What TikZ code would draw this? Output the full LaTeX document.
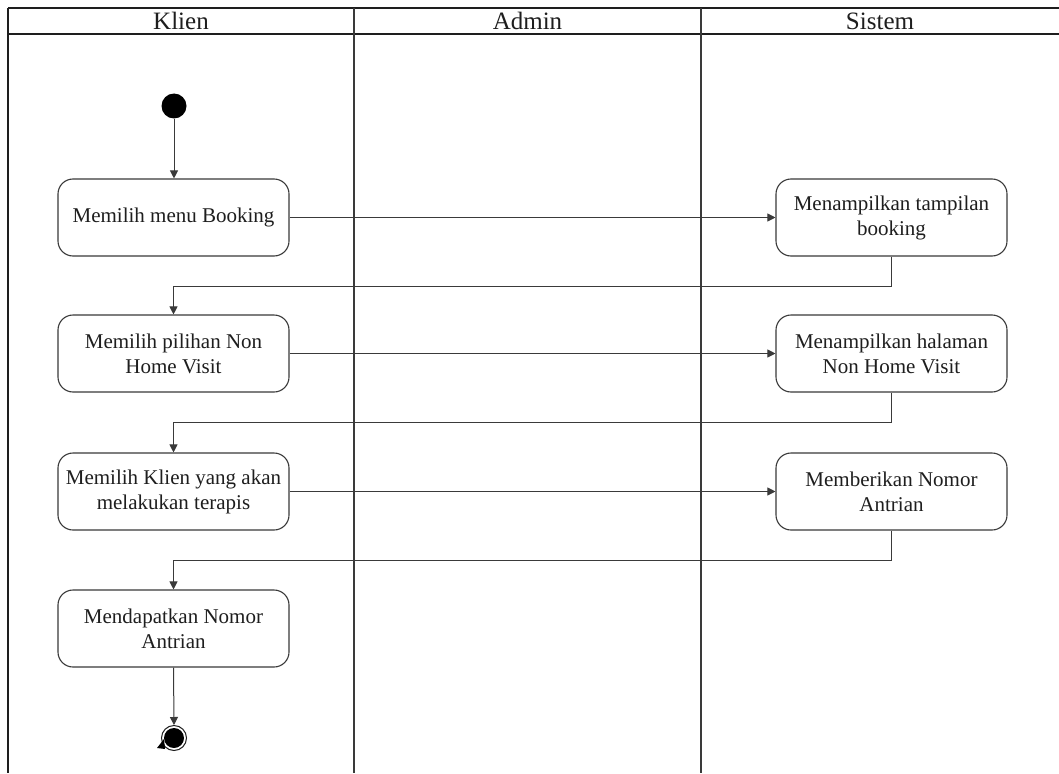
\documentclass[tikz,border=0pt]{standalone}
\usepackage{fontspec}
\setmainfont{Liberation Serif}
\usetikzlibrary{arrows.meta}

\definecolor{ink}{HTML}{1E1E1E}
\definecolor{rule}{HTML}{3A3A3A}

\tikzset{
  lane/.style={draw=ink, line width=1.6pt},
  divider/.style={draw=rule, line width=1.3pt},
  lanetitle/.style={font=\fontsize{25}{28}\selectfont, text=ink, anchor=center},
  action/.style={draw=rule, line width=1.1pt, rounded corners=15pt,
    minimum width=231pt, minimum height=77pt, inner sep=2pt, align=center,
    font=\fontsize{21}{25}\selectfont, text=ink},
  flow/.style={draw=rule, line width=1pt, -{Triangle[length=8pt,width=8pt]}},
  startnode/.style={circle, fill=black, minimum size=25pt, inner sep=0pt},
  endnode/.style={circle, draw=ink, line width=1pt, fill=white, minimum size=25pt, inner sep=0pt,
    path picture={\fill[black] (path picture bounding box.center) circle (10pt);}}
}

\begin{document}
\begin{tikzpicture}[x=1pt, y=-1pt]
  \useasboundingbox[fill=white] (0,0) rectangle (1059,773);

  % swimlane frame
  \draw[lane] (8,8) -- (1059,8);
  \draw[lane] (8,34) -- (1059,34);
  \draw[lane] (8,8) -- (8,773);
  \draw[divider] (354,8) -- (354,773);
  \draw[divider] (701,8) -- (701,773);

  \node[lanetitle] (tKlien) at (181,21) {Klien};
  \node[lanetitle] (tAdmin) at (527.5,21) {Admin};
  \node[lanetitle] (tSistem) at (880,21) {Sistem};

  % activities
  \node[startnode] (start) at (174,106) {};

  \node[action] (k1) at (173.5,217.5) {Memilih menu Booking};
  \node[action] (s1) at (891.5,217.5) {Menampilkan tampilan\\booking};

  \node[action] (k2) at (173.5,353.5) {Memilih pilihan Non\\Home Visit};
  \node[action] (s2) at (891.5,353.5) {Menampilkan halaman\\Non Home Visit};

  \node[action] (k3) at (173.5,491.5) {Memilih Klien yang akan\\melakukan terapis};
  \node[action] (s3) at (891.5,491.5) {Memberikan Nomor\\Antrian};

  \node[action] (k4) at (173.5,628.5) {Mendapatkan Nomor\\Antrian};

  \node[endnode] (end) at (174,738) {};

  % control flow
  \draw[flow] (start) -- (k1.north -| start);
  \draw[flow] (k1) -- (s1);
  \draw[flow] (s1.south) -- ++(0,30) -| (k2.north);
  \draw[flow] (k2) -- (s2);
  \draw[flow] (s2.south) -- ++(0,30) -| (k3.north);
  \draw[flow] (k3) -- (s3);
  \draw[flow] (s3.south) -- ++(0,30) -| (k4.north);
  \draw[flow] (k4.south) -- (end.north);

  % small notch at the final node
  \fill[black] (164,739) -- (157,748) -- (165,749) -- cycle;
\end{tikzpicture}
\end{document}
